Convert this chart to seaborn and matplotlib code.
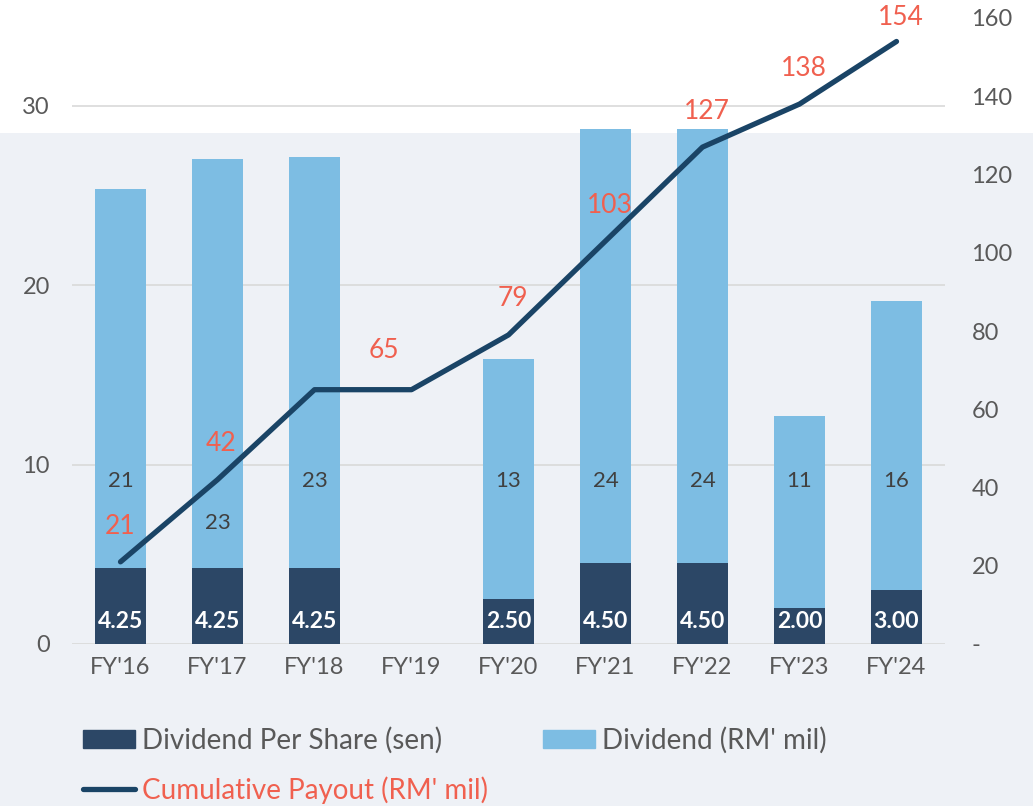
import numpy as np
import pandas as pd
import seaborn as sns
import matplotlib.pyplot as plt
from matplotlib.patches import Rectangle, Patch
from matplotlib.lines import Line2D

sns.set_style('white')
plt.rcParams['font.family'] = ['Lato', 'DejaVu Sans']

# data
years = ["FY'16", "FY'17", "FY'18", "FY'19", "FY'20", "FY'21", "FY'22", "FY'23", "FY'24"]
dps = [4.25, 4.25, 4.25, 0, 2.50, 4.50, 4.50, 2.00, 3.00]
dividend = [21.1, 22.8, 22.9, 0, 13.4, 24.2, 24.2, 10.7, 16.1]
cumulative = [21, 42, 65, 65, 79, 103, 127, 138, 154]
left_ticks = [0, 10, 20, 30]
right_ticks = [0, 20, 40, 60, 80, 100, 120, 140, 160]

dark = '#2c4766'
light = '#7dbde3'
line_col = '#1a4466'
red = '#f0604f'
grey = '#595959'
bg = '#eef1f6'

df = pd.DataFrame({'year': years, 'dps': dps, 'div': dividend})
df['total'] = df['dps'] + df['div']

fig = plt.figure(figsize=(10.33, 8.06), dpi=100, facecolor=bg)
# white band at top of the slide
fig.patches.append(Rectangle((0, 1 - 133 / 806), 1, 133 / 806, transform=fig.transFigure,
                             facecolor='white', edgecolor='none', zorder=-10))
ax = fig.add_axes([72 / 1033, 1 - 644 / 806, (945 - 72) / 1033, (644 - 18) / 806])
ax.patch.set_alpha(0)

sns.barplot(data=df, x='year', y='total', color=light, width=0.53, linewidth=0,
            saturation=1, ax=ax, zorder=2)
sns.barplot(data=df, x='year', y='dps', color=dark, width=0.53, linewidth=0,
            saturation=1, ax=ax, zorder=3)
ax.set_xlim(-0.5, len(years) - 0.5)
ax.set_ylim(0, 160 / (538 / 30 / (626 / 160)))
ax.set_yticks(left_ticks)
ax.set_xlabel('')
ax.set_ylabel('')
ax.yaxis.grid(True, color='#d9d9d9', linewidth=1.2, zorder=0)
ax.set_axisbelow(True)
for s in ax.spines.values():
    s.set_visible(False)
ax.tick_params(axis='y', length=0, pad=16, labelsize=17, labelcolor=grey)
ax.tick_params(axis='x', length=0, pad=9, labelsize=17, labelcolor=grey)

# bar labels
for i, (d, v) in enumerate(zip(dps, dividend)):
    if d == 0:
        continue
    ax.text(i, 1.25, f'{d:.2f}', ha='center', va='center', color='white',
            fontsize=16.5, fontweight='bold', zorder=5)
    ylab = 6.75 if i == 1 else 9.1
    ax.text(i, ylab, f'{v:.0f}', ha='center', va='center', color='#404040',
            fontsize=16, zorder=5)

ax2 = ax.twinx()
sns.lineplot(x=np.arange(len(years)), y=cumulative, color=line_col, linewidth=3.8,
             ax=ax2, zorder=6)
ax2.set_ylim(0, 160)
ax2.set_yticks(right_ticks)
ax2.set_yticklabels(['-'] + [str(t) for t in right_ticks[1:]])
for s in ax2.spines.values():
    s.set_visible(False)
ax2.tick_params(axis='y', length=0, pad=19, labelsize=17, labelcolor=grey)
ax2.grid(False)

# cumulative labels (FY'18 shares its value with FY'19)
offsets = {0: (0, 35), 2: None, 3: (-28, 39), 8: (4, 24)}
for i, c in enumerate(cumulative):
    off = offsets.get(i, (4, 36))
    if off is None:
        continue
    ax2.annotate(str(c), (i, c), xytext=(off[0] * 0.72, off[1] * 0.72),
                 textcoords='offset points', ha='center', va='center',
                 color=red, fontsize=19, zorder=7, annotation_clip=False)

handles = [Patch(color=dark), Line2D([], [], color=line_col, linewidth=3.8,
                                     solid_capstyle='round'), Patch(color=light)]
labels = ['Dividend Per Share (sen)', "Cumulative Payout (RM' mil)", "Dividend (RM' mil)"]
leg = fig.legend(handles, labels, ncol=2, loc='upper left',
                 bbox_to_anchor=(83 / 1033, 1 - 727 / 806), frameon=False,
                 fontsize=20, handlelength=1.87, handleheight=0.6,
                 handletextpad=0.25, columnspacing=2.0, labelspacing=0.8,
                 borderaxespad=0, borderpad=0)
for t in leg.get_texts():
    t.set_color(grey)
leg.get_texts()[1].set_color(red)

fig.savefig('out.png', dpi=100, facecolor=bg)
